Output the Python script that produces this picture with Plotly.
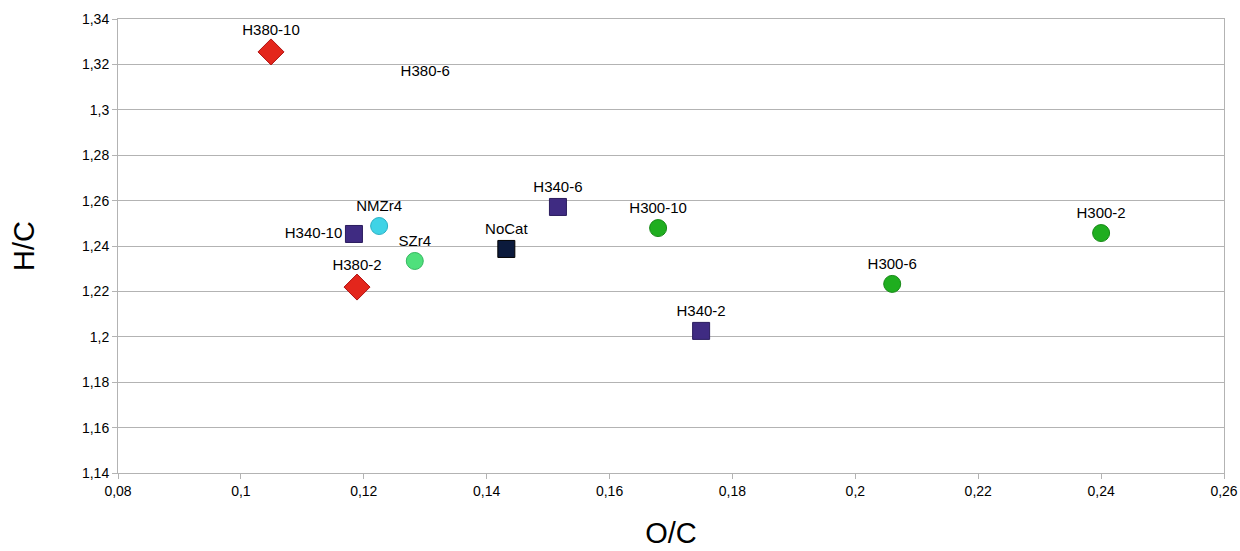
import plotly.graph_objects as go

names = ["H380-10", "H380-6", "H380-2", "H340-10", "NMZr4", "SZr4", "NoCat",
         "H340-6", "H300-10", "H340-2", "H300-6", "H300-2"]
oc = [0.1049, 0.1300, 0.1189, 0.1184, 0.1225, 0.1283, 0.1432,
      0.1516, 0.1679, 0.1749, 0.2060, 0.2400]
hc = [1.3255, 1.3074, 1.2219, 1.2453, 1.2488, 1.2334, 1.2387,
      1.2572, 1.2479, 1.2026, 1.2233, 1.2457]
groups = ["H380", "H380-hidden", "H380", "H340", "NMZr4", "SZr4", "NoCat",
          "H340", "H300", "H340", "H300", "H300"]

x_ticks = [0.08, 0.10, 0.12, 0.14, 0.16, 0.18, 0.20, 0.22, 0.24, 0.26]
x_ticklabels = ["0,08", "0,1", "0,12", "0,14", "0,16", "0,18", "0,2", "0,22", "0,24", "0,26"]
y_ticks = [1.14, 1.16, 1.18, 1.20, 1.22, 1.24, 1.26, 1.28, 1.30, 1.32, 1.34]
y_ticklabels = ["1,14", "1,16", "1,18", "1,2", "1,22", "1,24", "1,26", "1,28", "1,3", "1,32", "1,34"]

styles = {
    "H380": dict(symbol="diamond", color="#e3261c", size=20, line="#b01010", opacity=1),
    "H380-hidden": dict(symbol="diamond", color="#e3261c", size=20, line="#b01010", opacity=0),
    "H340": dict(symbol="square", color="#3f2b82", size=17, line="#2a1c5e", opacity=1),
    "NMZr4": dict(symbol="circle", color="#3fd3e6", size=17, line="#2bb0c4", opacity=1),
    "SZr4": dict(symbol="circle", color="#4fe07c", size=17, line="#35b860", opacity=1),
    "NoCat": dict(symbol="square", color="#0b1a3c", size=17, line="#000000", opacity=1),
    "H300": dict(symbol="circle", color="#1fae1f", size=17, line="#178a17", opacity=1),
}

fig = go.Figure()
order = []
for g in groups:
    if g not in order:
        order.append(g)
for g in order:
    idx = [i for i, gg in enumerate(groups) if gg == g]
    st = styles[g]
    pos = ["middle left" if names[i] == "H340-10" else "top center" for i in idx]
    fig.add_trace(go.Scatter(
        x=[oc[i] for i in idx], y=[hc[i] for i in idx],
        mode="markers+text",
        text=[names[i] for i in idx],
        textposition=pos,
        textfont=dict(family="Liberation Sans, Arial, sans-serif", size=15, color="#000000"),
        marker=dict(symbol=st["symbol"], size=st["size"], color=st["color"],
                    opacity=st["opacity"], line=dict(color=st["line"], width=1)),
        showlegend=False, cliponaxis=False,
    ))

fig.update_layout(
    width=1240, height=551,
    margin=dict(l=118, r=16, t=19, b=78),
    paper_bgcolor="white", plot_bgcolor="white",
    font=dict(family="Liberation Sans, Arial, sans-serif", color="#000000"),
    xaxis=dict(range=[0.08, 0.26], tickvals=x_ticks, ticktext=x_ticklabels,
               showgrid=False, zeroline=False, automargin=False,
               showline=True, linecolor="#b3b3b3", linewidth=1, mirror=True,
               ticks="outside", ticklen=5, tickcolor="#b3b3b3",
               tickfont=dict(size=14),
               title=dict(text="O/C", font=dict(size=29), standoff=24)),
    yaxis=dict(range=[1.14, 1.34], tickvals=y_ticks, ticktext=y_ticklabels,
               showgrid=True, gridcolor="#b3b3b3", gridwidth=1, zeroline=False,
               automargin=False,
               showline=True, linecolor="#b3b3b3", linewidth=1, mirror=True,
               ticks="outside", ticklen=5, tickcolor="#b3b3b3",
               tickfont=dict(size=14),
               title=dict(text="H/C", font=dict(size=29), standoff=38)),
)

fig.write_html("out.html", config={"displayModeBar": False},
               post_script="document.body.style.margin='0px';")
